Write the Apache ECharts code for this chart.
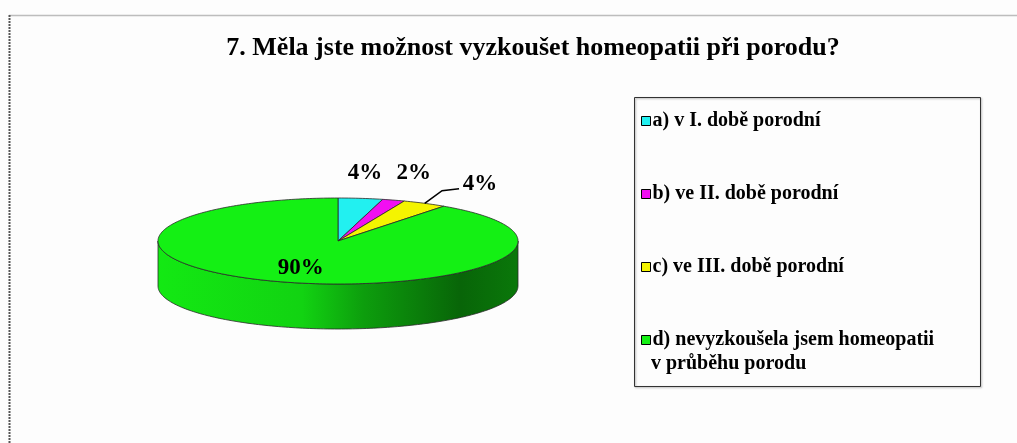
<!DOCTYPE html>
<html><head><meta charset="utf-8">
<script src="https://cdn.jsdelivr.net/npm/echarts@6/dist/echarts.min.js"></script>
<style>html,body{margin:0;padding:0;background:#fdfdfd}#c{width:1017px;height:443px}</style>
</head><body><div id="c"></div>
<script>
// ---- data ----
const titleText = '7. Měla jste možnost vyzkoušet homeopatii při porodu?';
const categories = [
  'a) v I. době porodní',
  'b) ve II. době porodní',
  'c) ve III. době porodní',
  'd) nevyzkoušela jsem homeopatii\nv průběhu porodu'
];
const values = [4, 2, 4, 90];

// ---- styles / layout ----
const colors = ['#22f0f0', '#f20ef2', '#f4f400', '#14f014'];
const PIE = { cx: 338, cy: 241, rx: 180, ry: 43, depth: 45 };
const LABEL_TWEAK = [
  { out: true, dx: 0, dy: 0 },
  { out: true, dx: 9, dy: -3 },
  { out: true, dx: 38, dy: 3, leader: true },
  { out: false }
];
const FONT = '"Liberation Serif", "Times New Roman", serif';

const total = values.reduce((a, b) => a + b, 0);
const cum = [];
values.reduce((acc, v, i) => { cum[i] = acc; return acc + v; }, 0);

function shade(color, f) {
  const c = echarts.color.parse(color);
  return 'rgb(' + [0, 1, 2].map(i => Math.max(0, Math.min(255, Math.round(c[i] * f)))).join(',') + ')';
}

function pt(t, dy) {
  return [PIE.cx + PIE.rx * Math.sin(t), PIE.cy - PIE.ry * Math.cos(t) + (dy || 0)];
}

function makeRender(idx) {
  return function (params, api) {
    const v = api.value(0), start = api.value(1), tot = api.value(2);
    const a0 = start / tot * Math.PI * 2, a1 = (start + v) / tot * Math.PI * 2;
    const color = colors[idx];
    const children = [];
    // top face
    const n = Math.max(2, Math.ceil((a1 - a0) / 0.02));
    const top = [[PIE.cx, PIE.cy]];
    for (let k = 0; k <= n; k++) top.push(pt(a0 + (a1 - a0) * k / n));
    children.push({
      type: 'polygon', z2: 10, shape: { points: top },
      style: { fill: color, stroke: '#2a2a2a', lineWidth: 0.8 }
    });
    // front side
    const s0 = Math.max(a0, Math.PI / 2), s1 = Math.min(a1, Math.PI * 1.5);
    if (s1 > s0) {
      const m = Math.max(2, Math.ceil((s1 - s0) / 0.02));
      const side = [];
      for (let k = 0; k <= m; k++) side.push(pt(s0 + (s1 - s0) * k / m));
      for (let k = m; k >= 0; k--) side.push(pt(s0 + (s1 - s0) * k / m, PIE.depth));
      children.push({
        type: 'polygon', z2: 5, shape: { points: side },
        style: {
          fill: {
            type: 'linear', global: true,
            x: PIE.cx - PIE.rx, y: 0, x2: PIE.cx + PIE.rx, y2: 0,
            colorStops: [
              { offset: 0, color: shade(color, 0.97) },
              { offset: 0.4, color: shade(color, 0.88) },
              { offset: 0.57, color: shade(color, 0.66) },
              { offset: 0.84, color: shade(color, 0.42) },
              { offset: 1, color: shade(color, 0.5) }
            ]
          },
          stroke: '#2a2a2a', lineWidth: 0.8
        }
      });
    }
    // label
    const mid = (a0 + a1) / 2;
    const tw = LABEL_TWEAK[idx];
    let lx, ly;
    if (tw.out) {
      lx = PIE.cx + PIE.rx * 1.2 * Math.sin(mid) + tw.dx;
      ly = PIE.cy - PIE.ry * 1.6 * Math.cos(mid) + tw.dy;
    } else {
      lx = PIE.cx + PIE.rx * 0.67 * Math.sin(mid);
      ly = PIE.cy - PIE.ry * 0.66 * Math.cos(mid);
    }
    children.push({
      type: 'text', z2: 30,
      style: {
        text: Math.round(v / tot * 100) + '%', x: lx, y: ly,
        align: 'center', verticalAlign: 'middle',
        font: 'bold 23px ' + FONT, fill: '#000'
      }
    });
    if (tw.leader) {
      children.push({
        type: 'polyline', z2: 30,
        shape: { points: [pt(mid), [lx - 38, ly + 7], [lx - 21, ly + 5]] },
        style: { stroke: '#000', lineWidth: 1.6, fill: null }
      });
    }
    return { type: 'group', children: children };
  };
}

const series = categories.map((name, i) => ({
  type: 'custom',
  name: name,
  coordinateSystem: 'none',
  silent: true,
  itemStyle: { color: colors[i] },
  data: [[values[i], cum[i], total]],
  renderItem: makeRender(i)
}));

const contLines = categories.map(c => c.split('\n').slice(1).join('\n'));

const chart = echarts.init(document.getElementById('c'), null, { renderer: 'canvas' });
chart.setOption({
  backgroundColor: '#fdfdfd',
  animation: false,
  title: {
    text: titleText, left: 533, top: 33, textAlign: 'center', padding: 0,
    textStyle: { fontFamily: FONT, fontWeight: 'bold', fontSize: 26, lineHeight: 30, color: '#000' }
  },
  legend: {
    orient: 'vertical', left: 641, top: 110, padding: 0, itemGap: 51,
    itemWidth: 9, itemHeight: 9, icon: 'rect', selectedMode: false,
    itemStyle: { borderColor: '#000', borderWidth: 1 },
    formatter: n => n.split('\n')[0],
    textStyle: { fontFamily: FONT, fontWeight: 'bold', fontSize: 20, lineHeight: 22, color: '#000', padding: [0, 0, 0, -3] },
    data: categories
  },
  graphic: [
    { type: 'line', shape: { x1: 9, y1: 15.5, x2: 1017, y2: 15.5 }, style: { stroke: '#bdbdbd', lineWidth: 1.5 } },
    { type: 'line', shape: { x1: 9.5, y1: 15, x2: 9.5, y2: 443 }, style: { stroke: '#555', lineWidth: 2, lineDash: [2, 1] } },
    { type: 'rect', shape: { x: 634.5, y: 97.5, width: 346, height: 289 },
      style: { fill: null, stroke: '#333', lineWidth: 1, shadowBlur: 2, shadowOffsetX: 1, shadowOffsetY: 1, shadowColor: 'rgba(0,0,0,0.35)' } },
    ...contLines.map((t, i) => t ? {
      type: 'text', left: 651, top: 354,
      style: { text: t, font: 'bold 20px ' + FONT, fill: '#000' }
    } : null).filter(Boolean)
  ],
  series: series
});
</script></body></html>
